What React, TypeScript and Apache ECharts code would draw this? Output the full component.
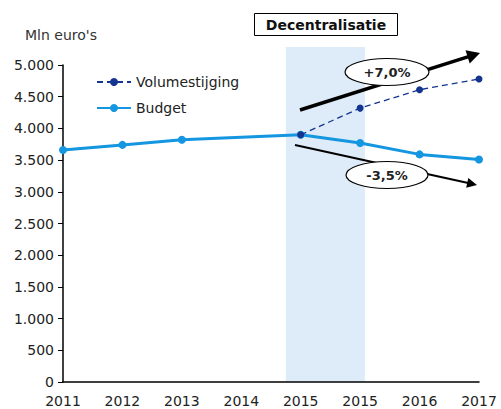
import React, { useEffect, useRef } from "react";
import * as echarts from "echarts";

const categories = ["2011", "2012", "2013", "2014", "2015", "2015", "2016", "2017"];
const budget: (number | null)[] = [3660, 3740, 3820, null, 3900, 3770, 3590, 3510];
const volume: (number | null)[] = [null, null, null, null, 3900, 4320, 4610, 4780];
const yTicks = [0, 500, 1000, 1500, 2000, 2500, 3000, 3500, 4000, 4500, 5000];
const upLabel = "+7,0%";
const downLabel = "-3,5%";
const bandTitle = "Decentralisatie";
const yTitle = "Mln euro's";

function fmt(v: number) {
  return v.toLocaleString("en-US").replace(/,/g, ".");
}

function arrow(x1: number, y1: number, x2: number, y2: number, w: number, hl: number, hw: number) {
  const dx = x2 - x1, dy = y2 - y1;
  const L = Math.sqrt(dx * dx + dy * dy);
  const ux = dx / L, uy = dy / L;
  const nx = -uy, ny = ux;
  const bx = x2 - hl * ux, by = y2 - hl * uy;
  return [
    { type: "line", z: 100, shape: { x1, y1, x2: bx + ux, y2: by + uy }, style: { stroke: "#000", lineWidth: w } },
    {
      type: "polygon", z: 100,
      shape: { points: [[x2, y2], [bx + hw * nx, by + hw * ny], [bx - hw * nx, by - hw * ny]] },
      style: { fill: "#000" },
    },
  ];
}

export default function App() {
  const ref = useRef<HTMLDivElement>(null);
  useEffect(() => {
    const chart = echarts.init(ref.current!, null, { renderer: "svg" });
    const font = "'DejaVu Sans', Arial, sans-serif";
    chart.setOption({
      animation: false,
      textStyle: { fontFamily: font },
      grid: { left: 63, right: 22, top: 65, bottom: 27, containLabel: false },
      legend: {
        orient: "vertical",
        left: 91,
        top: 70,
        itemWidth: 34,
        itemHeight: 10,
        itemGap: 12,
        textStyle: { fontSize: 14, color: "#222", fontFamily: font },
        data: ["Volumestijging", "Budget"],
      },
      xAxis: {
        type: "category",
        data: categories,
        boundaryGap: false,
        axisLine: { lineStyle: { color: "#000", width: 1.5 } },
        axisTick: { show: false },
        axisLabel: { fontSize: 14, color: "#222", margin: 12, interval: 0, fontFamily: font },
      },
      yAxis: {
        type: "value",
        min: yTicks[0],
        max: yTicks[yTicks.length - 1],
        interval: yTicks[1] - yTicks[0],
        splitLine: { show: false },
        axisLine: { show: true, lineStyle: { color: "#000", width: 1.5 } },
        axisTick: { show: true, length: 5, lineStyle: { color: "#000" } },
        axisLabel: { fontSize: 14, color: "#222", margin: 9, formatter: (v: number) => fmt(v), fontFamily: font },
      },
      series: [
        {
          name: "Volumestijging",
          type: "line",
          data: volume,
          z: 3,
          symbol: "circle",
          symbolSize: 7,
          itemStyle: { color: "#14358f" },
          lineStyle: { color: "#14358f", width: 1.3, type: [6, 4] },
        },
        {
          name: "Budget",
          type: "line",
          data: budget,
          connectNulls: true,
          z: 2,
          symbol: "circle",
          symbolSize: 8,
          itemStyle: { color: "#1496e0" },
          lineStyle: { color: "#1496e0", width: 3 },
        },
      ],
    });

    const p4 = chart.convertToPixel({ gridIndex: 0 }, [4, 0]) as number[];
    const p5 = chart.convertToPixel({ gridIndex: 0 }, [5, 0]) as number[];
    const step = p5[0] - p4[0];
    const bandL = p4[0] - 0.25 * step;
    const bandR = p5[0] + 0.08 * step;

    chart.setOption({
      graphic: [
        {
          type: "rect", z: 0, silent: true,
          shape: { x: bandL, y: 47, width: bandR - bandL, height: p4[1] - 47 },
          style: { fill: "#ddecf8" },
        },
        {
          type: "rect", z: 100,
          shape: { x: 254.5, y: 13.5, width: 143, height: 22 },
          style: { fill: "#fff", stroke: "#000", lineWidth: 1 },
        },
        {
          type: "text", z: 101, x: 326, y: 25,
          style: { text: bandTitle, font: `bold 14px ${font}`, fill: "#111", align: "center", verticalAlign: "middle" },
        },
        {
          type: "text", z: 101, x: 25, y: 35,
          style: { text: yTitle, font: `14px ${font}`, fill: "#333", align: "left", verticalAlign: "middle" },
        },
        ...arrow(300, 110, 480, 53, 3.5, 13, 7),
        ...arrow(295, 145, 477, 185, 2, 10, 5),
        {
          type: "ellipse", z: 102,
          shape: { cx: 387, cy: 72, rx: 42, ry: 13.5 },
          style: { fill: "#fff", stroke: "#000", lineWidth: 1.2 },
        },
        {
          type: "text", z: 103, x: 387, y: 72,
          style: { text: upLabel, font: `bold 13px ${font}`, fill: "#222", align: "center", verticalAlign: "middle" },
        },
        {
          type: "ellipse", z: 102,
          shape: { cx: 387, cy: 175, rx: 41, ry: 13.5 },
          style: { fill: "#fff", stroke: "#000", lineWidth: 1.2 },
        },
        {
          type: "text", z: 103, x: 387, y: 175,
          style: { text: downLabel, font: `bold 13px ${font}`, fill: "#222", align: "center", verticalAlign: "middle" },
        },
      ],
    });
    return () => chart.dispose();
  }, []);
  return <div ref={ref} style={{ width: 501, height: 409, position: "absolute", left: 0, top: 0 }} />;
}
